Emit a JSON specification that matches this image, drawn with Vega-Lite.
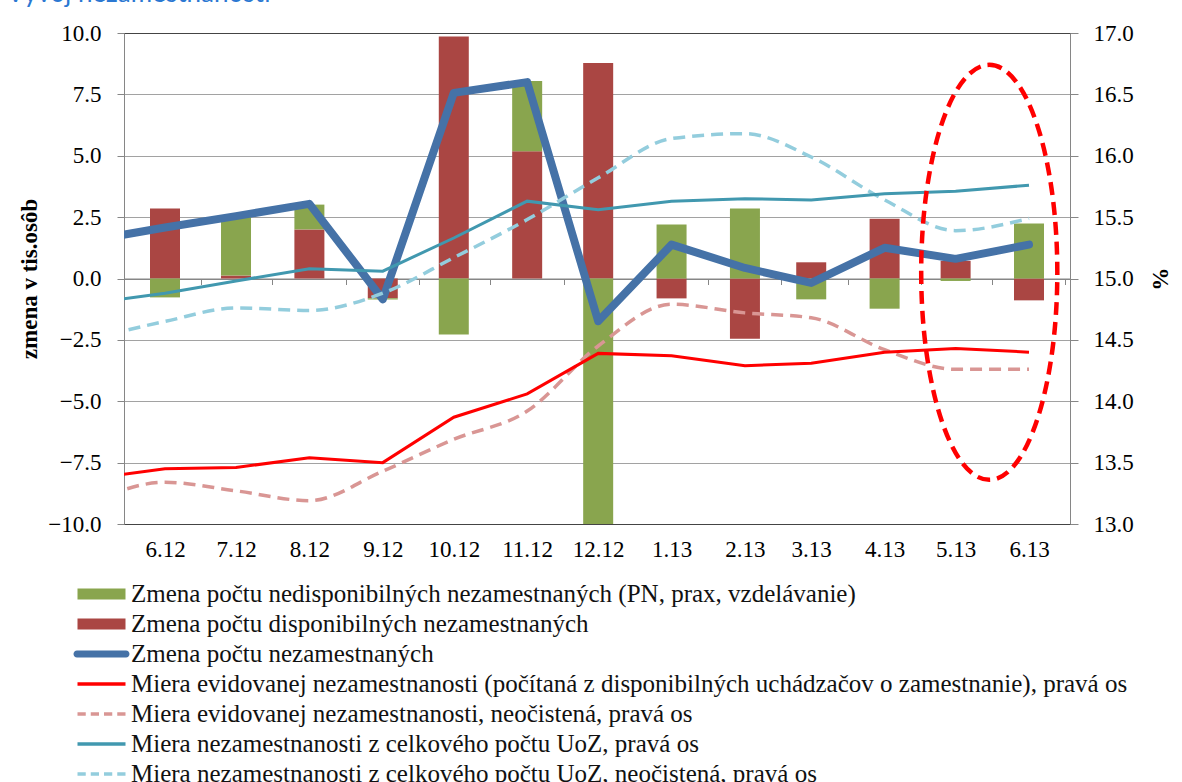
{
  "$schema": "https://vega.github.io/schema/vega-lite/v6.json",
  "width": 946,
  "height": 491,
  "autosize": {"type": "none"},
  "padding": {"left": 124, "top": 33, "right": 112, "bottom": 258},
  "background": "white",
  "config": {
    "font": "Liberation Serif",
    "view": {"stroke": "#000000", "strokeWidth": 1}
  },
  "title": {
    "text": "Vývoj nezamestnanosti",
    "anchor": "start",
    "frame": "bounds",
    "font": "Lato",
    "fontSize": 26,
    "fontWeight": "normal",
    "color": "#2B78D2",
    "baseline": "alphabetic",
    "offset": 0,
    "dx": -12,
    "dy": 6
  },
  "datasets": {
    "bars": [
      {"date": "2012-06-01T00:00:00", "series": "Zmena počtu disponibilných nezamestnaných", "value": 2.85},
      {"date": "2012-06-01T00:00:00", "series": "Zmena počtu nedisponibilných nezamestnaných (PN, prax, vzdelávanie)", "value": -0.77},
      {"date": "2012-07-01T00:00:00", "series": "Zmena počtu disponibilných nezamestnaných", "value": 0.12},
      {"date": "2012-07-01T00:00:00", "series": "Zmena počtu nedisponibilných nezamestnaných (PN, prax, vzdelávanie)", "value": 2.43},
      {"date": "2012-08-01T00:00:00", "series": "Zmena počtu disponibilných nezamestnaných", "value": 2.0},
      {"date": "2012-08-01T00:00:00", "series": "Zmena počtu nedisponibilných nezamestnaných (PN, prax, vzdelávanie)", "value": 1.01},
      {"date": "2012-09-01T00:00:00", "series": "Zmena počtu disponibilných nezamestnaných", "value": -0.8},
      {"date": "2012-09-01T00:00:00", "series": "Zmena počtu nedisponibilných nezamestnaných (PN, prax, vzdelávanie)", "value": -0.06},
      {"date": "2012-10-01T00:00:00", "series": "Zmena počtu disponibilných nezamestnaných", "value": 9.86},
      {"date": "2012-10-01T00:00:00", "series": "Zmena počtu nedisponibilných nezamestnaných (PN, prax, vzdelávanie)", "value": -2.28},
      {"date": "2012-11-01T00:00:00", "series": "Zmena počtu disponibilných nezamestnaných", "value": 5.18},
      {"date": "2012-11-01T00:00:00", "series": "Zmena počtu nedisponibilných nezamestnaných (PN, prax, vzdelávanie)", "value": 2.86},
      {"date": "2012-12-01T00:00:00", "series": "Zmena počtu disponibilných nezamestnaných", "value": 8.78},
      {"date": "2012-12-01T00:00:00", "series": "Zmena počtu nedisponibilných nezamestnaných (PN, prax, vzdelávanie)", "value": -10.52},
      {"date": "2013-01-01T00:00:00", "series": "Zmena počtu disponibilných nezamestnaných", "value": -0.81},
      {"date": "2013-01-01T00:00:00", "series": "Zmena počtu nedisponibilných nezamestnaných (PN, prax, vzdelávanie)", "value": 2.2},
      {"date": "2013-02-01T00:00:00", "series": "Zmena počtu disponibilných nezamestnaných", "value": -2.45},
      {"date": "2013-02-01T00:00:00", "series": "Zmena počtu nedisponibilných nezamestnaných (PN, prax, vzdelávanie)", "value": 2.85},
      {"date": "2013-03-01T00:00:00", "series": "Zmena počtu disponibilných nezamestnaných", "value": 0.66},
      {"date": "2013-03-01T00:00:00", "series": "Zmena počtu nedisponibilných nezamestnaných (PN, prax, vzdelávanie)", "value": -0.85},
      {"date": "2013-04-01T00:00:00", "series": "Zmena počtu disponibilných nezamestnaných", "value": 2.43},
      {"date": "2013-04-01T00:00:00", "series": "Zmena počtu nedisponibilných nezamestnaných (PN, prax, vzdelávanie)", "value": -1.23},
      {"date": "2013-05-01T00:00:00", "series": "Zmena počtu disponibilných nezamestnaných", "value": 0.72},
      {"date": "2013-05-01T00:00:00", "series": "Zmena počtu nedisponibilných nezamestnaných (PN, prax, vzdelávanie)", "value": -0.1},
      {"date": "2013-06-01T00:00:00", "series": "Zmena počtu disponibilných nezamestnaných", "value": -0.89},
      {"date": "2013-06-01T00:00:00", "series": "Zmena počtu nedisponibilných nezamestnaných (PN, prax, vzdelávanie)", "value": 2.24}
    ],
    "blue": [
      {"date": "2012-05-01T00:00:00", "series": "Zmena počtu nezamestnaných", "value": 1.56},
      {"date": "2012-06-01T00:00:00", "series": "Zmena počtu nezamestnaných", "value": 2.08},
      {"date": "2012-07-01T00:00:00", "series": "Zmena počtu nezamestnaných", "value": 2.54},
      {"date": "2012-08-01T00:00:00", "series": "Zmena počtu nezamestnaných", "value": 3.04},
      {"date": "2012-09-01T00:00:00", "series": "Zmena počtu nezamestnaných", "value": -0.85},
      {"date": "2012-10-01T00:00:00", "series": "Zmena počtu nezamestnaných", "value": 7.56},
      {"date": "2012-11-01T00:00:00", "series": "Zmena počtu nezamestnaných", "value": 8.0},
      {"date": "2012-12-01T00:00:00", "series": "Zmena počtu nezamestnaných", "value": -1.74},
      {"date": "2013-01-01T00:00:00", "series": "Zmena počtu nezamestnaných", "value": 1.38},
      {"date": "2013-02-01T00:00:00", "series": "Zmena počtu nezamestnaných", "value": 0.43},
      {"date": "2013-03-01T00:00:00", "series": "Zmena počtu nezamestnaných", "value": -0.18},
      {"date": "2013-04-01T00:00:00", "series": "Zmena počtu nezamestnaných", "value": 1.25},
      {"date": "2013-05-01T00:00:00", "series": "Zmena počtu nezamestnaných", "value": 0.8},
      {"date": "2013-06-01T00:00:00", "series": "Zmena počtu nezamestnaných", "value": 1.38}
    ],
    "right": [
      {"date": "2012-05-01T00:00:00", "series": "Miera evidovanej nezamestnanosti (počítaná z disponibilných uchádzačov o zamestnanie), pravá os", "value": 13.37},
      {"date": "2012-06-01T00:00:00", "series": "Miera evidovanej nezamestnanosti (počítaná z disponibilných uchádzačov o zamestnanie), pravá os", "value": 13.45},
      {"date": "2012-07-01T00:00:00", "series": "Miera evidovanej nezamestnanosti (počítaná z disponibilných uchádzačov o zamestnanie), pravá os", "value": 13.46},
      {"date": "2012-08-01T00:00:00", "series": "Miera evidovanej nezamestnanosti (počítaná z disponibilných uchádzačov o zamestnanie), pravá os", "value": 13.54},
      {"date": "2012-09-01T00:00:00", "series": "Miera evidovanej nezamestnanosti (počítaná z disponibilných uchádzačov o zamestnanie), pravá os", "value": 13.5},
      {"date": "2012-10-01T00:00:00", "series": "Miera evidovanej nezamestnanosti (počítaná z disponibilných uchádzačov o zamestnanie), pravá os", "value": 13.87},
      {"date": "2012-11-01T00:00:00", "series": "Miera evidovanej nezamestnanosti (počítaná z disponibilných uchádzačov o zamestnanie), pravá os", "value": 14.06},
      {"date": "2012-12-01T00:00:00", "series": "Miera evidovanej nezamestnanosti (počítaná z disponibilných uchádzačov o zamestnanie), pravá os", "value": 14.39},
      {"date": "2013-01-01T00:00:00", "series": "Miera evidovanej nezamestnanosti (počítaná z disponibilných uchádzačov o zamestnanie), pravá os", "value": 14.37},
      {"date": "2013-02-01T00:00:00", "series": "Miera evidovanej nezamestnanosti (počítaná z disponibilných uchádzačov o zamestnanie), pravá os", "value": 14.29},
      {"date": "2013-03-01T00:00:00", "series": "Miera evidovanej nezamestnanosti (počítaná z disponibilných uchádzačov o zamestnanie), pravá os", "value": 14.31},
      {"date": "2013-04-01T00:00:00", "series": "Miera evidovanej nezamestnanosti (počítaná z disponibilných uchádzačov o zamestnanie), pravá os", "value": 14.4},
      {"date": "2013-05-01T00:00:00", "series": "Miera evidovanej nezamestnanosti (počítaná z disponibilných uchádzačov o zamestnanie), pravá os", "value": 14.43},
      {"date": "2013-06-01T00:00:00", "series": "Miera evidovanej nezamestnanosti (počítaná z disponibilných uchádzačov o zamestnanie), pravá os", "value": 14.4},
      {"date": "2012-05-01T00:00:00", "series": "Miera evidovanej nezamestnanosti, neočistená, pravá os", "value": 13.18},
      {"date": "2012-06-01T00:00:00", "series": "Miera evidovanej nezamestnanosti, neočistená, pravá os", "value": 13.34},
      {"date": "2012-07-01T00:00:00", "series": "Miera evidovanej nezamestnanosti, neočistená, pravá os", "value": 13.27},
      {"date": "2012-08-01T00:00:00", "series": "Miera evidovanej nezamestnanosti, neočistená, pravá os", "value": 13.19},
      {"date": "2012-09-01T00:00:00", "series": "Miera evidovanej nezamestnanosti, neočistená, pravá os", "value": 13.43},
      {"date": "2012-10-01T00:00:00", "series": "Miera evidovanej nezamestnanosti, neočistená, pravá os", "value": 13.69},
      {"date": "2012-11-01T00:00:00", "series": "Miera evidovanej nezamestnanosti, neočistená, pravá os", "value": 13.92},
      {"date": "2012-12-01T00:00:00", "series": "Miera evidovanej nezamestnanosti, neočistená, pravá os", "value": 14.45},
      {"date": "2013-01-01T00:00:00", "series": "Miera evidovanej nezamestnanosti, neočistená, pravá os", "value": 14.79},
      {"date": "2013-02-01T00:00:00", "series": "Miera evidovanej nezamestnanosti, neočistená, pravá os", "value": 14.72},
      {"date": "2013-03-01T00:00:00", "series": "Miera evidovanej nezamestnanosti, neočistená, pravá os", "value": 14.68},
      {"date": "2013-04-01T00:00:00", "series": "Miera evidovanej nezamestnanosti, neočistená, pravá os", "value": 14.42},
      {"date": "2013-05-01T00:00:00", "series": "Miera evidovanej nezamestnanosti, neočistená, pravá os", "value": 14.26},
      {"date": "2013-06-01T00:00:00", "series": "Miera evidovanej nezamestnanosti, neočistená, pravá os", "value": 14.26},
      {"date": "2012-05-01T00:00:00", "series": "Miera nezamestnanosti z celkového počtu UoZ, pravá os", "value": 14.8},
      {"date": "2012-06-01T00:00:00", "series": "Miera nezamestnanosti z celkového počtu UoZ, pravá os", "value": 14.88},
      {"date": "2012-07-01T00:00:00", "series": "Miera nezamestnanosti z celkového počtu UoZ, pravá os", "value": 14.98},
      {"date": "2012-08-01T00:00:00", "series": "Miera nezamestnanosti z celkového počtu UoZ, pravá os", "value": 15.08},
      {"date": "2012-09-01T00:00:00", "series": "Miera nezamestnanosti z celkového počtu UoZ, pravá os", "value": 15.06},
      {"date": "2012-10-01T00:00:00", "series": "Miera nezamestnanosti z celkového počtu UoZ, pravá os", "value": 15.33},
      {"date": "2012-11-01T00:00:00", "series": "Miera nezamestnanosti z celkového počtu UoZ, pravá os", "value": 15.63},
      {"date": "2012-12-01T00:00:00", "series": "Miera nezamestnanosti z celkového počtu UoZ, pravá os", "value": 15.56},
      {"date": "2013-01-01T00:00:00", "series": "Miera nezamestnanosti z celkového počtu UoZ, pravá os", "value": 15.63},
      {"date": "2013-02-01T00:00:00", "series": "Miera nezamestnanosti z celkového počtu UoZ, pravá os", "value": 15.65},
      {"date": "2013-03-01T00:00:00", "series": "Miera nezamestnanosti z celkového počtu UoZ, pravá os", "value": 15.64},
      {"date": "2013-04-01T00:00:00", "series": "Miera nezamestnanosti z celkového počtu UoZ, pravá os", "value": 15.69},
      {"date": "2013-05-01T00:00:00", "series": "Miera nezamestnanosti z celkového počtu UoZ, pravá os", "value": 15.71},
      {"date": "2013-06-01T00:00:00", "series": "Miera nezamestnanosti z celkového počtu UoZ, pravá os", "value": 15.76},
      {"date": "2012-05-01T00:00:00", "series": "Miera nezamestnanosti z celkového počtu UoZ, neočistená, pravá os", "value": 14.51},
      {"date": "2012-06-01T00:00:00", "series": "Miera nezamestnanosti z celkového počtu UoZ, neočistená, pravá os", "value": 14.65},
      {"date": "2012-07-01T00:00:00", "series": "Miera nezamestnanosti z celkového počtu UoZ, neočistená, pravá os", "value": 14.76},
      {"date": "2012-08-01T00:00:00", "series": "Miera nezamestnanosti z celkového počtu UoZ, neočistená, pravá os", "value": 14.74},
      {"date": "2012-09-01T00:00:00", "series": "Miera nezamestnanosti z celkového počtu UoZ, neočistená, pravá os", "value": 14.88},
      {"date": "2012-10-01T00:00:00", "series": "Miera nezamestnanosti z celkového počtu UoZ, neočistená, pravá os", "value": 15.17},
      {"date": "2012-11-01T00:00:00", "series": "Miera nezamestnanosti z celkového počtu UoZ, neočistená, pravá os", "value": 15.48},
      {"date": "2012-12-01T00:00:00", "series": "Miera nezamestnanosti z celkového počtu UoZ, neočistená, pravá os", "value": 15.82},
      {"date": "2013-01-01T00:00:00", "series": "Miera nezamestnanosti z celkového počtu UoZ, neočistená, pravá os", "value": 16.14},
      {"date": "2013-02-01T00:00:00", "series": "Miera nezamestnanosti z celkového počtu UoZ, neočistená, pravá os", "value": 16.18},
      {"date": "2013-03-01T00:00:00", "series": "Miera nezamestnanosti z celkového počtu UoZ, neočistená, pravá os", "value": 15.99},
      {"date": "2013-04-01T00:00:00", "series": "Miera nezamestnanosti z celkového počtu UoZ, neočistená, pravá os", "value": 15.64},
      {"date": "2013-05-01T00:00:00", "series": "Miera nezamestnanosti z celkového počtu UoZ, neočistená, pravá os", "value": 15.39},
      {"date": "2013-06-01T00:00:00", "series": "Miera nezamestnanosti z celkového počtu UoZ, neočistená, pravá os", "value": 15.49}
    ],
    "ellipse": [
      {"date": "2013-05-15T05:00:00", "value": 15.05}
    ]
  },
  "encoding": {
    "x": {
      "field": "date",
      "type": "temporal",
      "scale": {"domain": [{"year": 2012, "month": 5, "date": 16, "hours": 19}, {"year": 2013, "month": 6, "date": 16, "hours": 5}]},
      "axis": {
        "orient": "bottom",
        "offset": -245.5,
        "format": "%-m.%y",
        "tickCount": {"interval": "month", "step": 1},
        "grid": false,
        "domainColor": "#868686",
        "tickColor": "#868686",
        "tickSize": 6,
        "tickOffset": 36.4,
        "labelOffset": -36.4,
        "labelPadding": 254,
        "labelFont": "Liberation Serif",
        "labelFontSize": 23,
        "labelColor": "#000000",
        "labelFlush": false,
        "labelOverlap": false,
        "labelBound": false,
        "title": null
      }
    }
  },
  "layer": [
    {
      "encoding": {
        "y": {
          "field": "value",
          "type": "quantitative",
          "scale": {"domain": [-10, 10], "nice": false, "zero": false},
          "axis": {
            "orient": "left",
            "values": [-10, -7.5, -5, -2.5, 0, 2.5, 5, 7.5, 10],
            "format": ".1f",
            "grid": true,
            "gridColor": {"condition": {"test": "datum.value === 0", "value": "#868686"}, "value": "#444444"},
            "gridDash": {"condition": {"test": "datum.value === 0 || abs(datum.value) === 10", "value": []}, "value": [1, 1]},
            "gridWidth": 1,
            "domainColor": "#868686",
            "tickColor": "#868686",
            "tickSize": 7,
            "labelPadding": 16,
            "labelFont": "Liberation Serif",
            "labelFontSize": 23,
            "labelColor": "#000000",
            "title": "zmena v tis.osôb",
            "titleFont": "Liberation Serif",
            "titleFontSize": 23,
            "titleFontWeight": "bold",
            "titleColor": "#000000",
            "titlePadding": 6
          }
        }
      },
      "layer": [
        {
          "data": {"name": "bars"},
          "mark": {"type": "bar", "width": 30, "clip": true},
          "encoding": {
            "color": {
              "field": "series",
              "type": "nominal",
              "scale": {
                "domain": [
                  "Zmena počtu nedisponibilných nezamestnaných (PN, prax, vzdelávanie)",
                  "Zmena počtu disponibilných nezamestnaných",
                  "Zmena počtu nezamestnaných",
                  "Miera evidovanej nezamestnanosti (počítaná z disponibilných uchádzačov o zamestnanie), pravá os",
                  "Miera evidovanej nezamestnanosti, neočistená, pravá os",
                  "Miera nezamestnanosti z celkového počtu UoZ, pravá os",
                  "Miera nezamestnanosti z celkového počtu UoZ, neočistená, pravá os"
                ],
                "range": ["#89A54E", "#AA4643", "#4572A7", "#FF0000", "#D99694", "#4198AF", "#93CDDD"]
              },
              "legend": {
                "orient": "none",
                "legendX": -35,
                "legendY": 548.5,
                "direction": "vertical",
                "title": null,
                "padding": 0,
                "symbolType": "square",
                "symbolSize": 400,
                "labelFont": "Liberation Serif",
                "labelFontSize": 25,
                "labelColor": "#111111",
                "labelLimit": 1100,
                "labelOffset": 17,
                "rowPadding": 4,
                "encode": {
                  "symbols": {
                    "update": {
                      "shape": {"signal": "datum.index < 2 ? 'M-2.4,-0.55H2.4V0.55H-2.4Z' : (datum.index == 2 ? 'M-2.45,-0.35H2.45A0.35,0.35 0 0 1 2.45,0.35H-2.45A0.35,0.35 0 0 1 -2.45,-0.35Z' : ((datum.index == 4 || datum.index == 6) ? 'M-2.4,-0.175H-1.575V0.175H-2.4Z M-1.075,-0.175H-0.25V0.175H-1.075Z M0.25,-0.175H1.075V0.175H0.25Z M1.575,-0.175H2.4V0.175H1.575Z' : 'M-2.4,-0.175H2.4V0.175H-2.4Z'))"},
                      "fill": {"signal": "scale('color', datum.value)"},
                      "stroke": {"value": "transparent"},
                      "strokeWidth": {"value": 0},
                      "opacity": {"value": 1},
                      "fillOpacity": {"value": 1}
                    }
                  }
                }
              }
            },
            "order": {"field": "series", "sort": "ascending"}
          }
        },
        {
          "data": {"name": "blue"},
          "mark": {"type": "line", "strokeWidth": 8, "strokeCap": "round", "strokeJoin": "round", "clip": true},
          "encoding": {
            "color": {"field": "series", "type": "nominal"}
          }
        }
      ]
    },
    {
      "encoding": {
        "y": {
          "field": "value",
          "type": "quantitative",
          "scale": {"domain": [13, 17], "nice": false, "zero": false},
          "axis": {
            "orient": "right",
            "values": [13, 13.5, 14, 14.5, 15, 15.5, 16, 16.5, 17],
            "format": ".1f",
            "grid": false,
            "domainColor": "#868686",
            "tickColor": "#868686",
            "tickSize": 8,
            "labelPadding": 15,
            "labelFont": "Liberation Serif",
            "labelFontSize": 23,
            "labelColor": "#000000",
            "title": "%",
            "titleFont": "Liberation Serif",
            "titleFontSize": 23,
            "titleFontWeight": "bold",
            "titleColor": "#000000",
            "titlePadding": 14
          }
        }
      },
      "layer": [
        {
          "data": {"name": "right"},
          "transform": [{"filter": "datum.series == 'Miera evidovanej nezamestnanosti, neočistená, pravá os'"}],
          "mark": {"type": "line", "strokeWidth": 3.5, "strokeDash": [12, 7], "interpolate": "monotone", "clip": true},
          "encoding": {"color": {"field": "series", "type": "nominal"}}
        },
        {
          "data": {"name": "right"},
          "transform": [{"filter": "datum.series == 'Miera nezamestnanosti z celkového počtu UoZ, neočistená, pravá os'"}],
          "mark": {"type": "line", "strokeWidth": 3.5, "strokeDash": [12, 7], "interpolate": "monotone", "clip": true},
          "encoding": {"color": {"field": "series", "type": "nominal"}}
        },
        {
          "data": {"name": "right"},
          "transform": [{"filter": "datum.series == 'Miera nezamestnanosti z celkového počtu UoZ, pravá os'"}],
          "mark": {"type": "line", "strokeWidth": 3, "clip": true},
          "encoding": {"color": {"field": "series", "type": "nominal"}}
        },
        {
          "data": {"name": "right"},
          "transform": [{"filter": "datum.series == 'Miera evidovanej nezamestnanosti (počítaná z disponibilných uchádzačov o zamestnanie), pravá os'"}],
          "mark": {"type": "line", "strokeWidth": 3, "clip": true},
          "encoding": {"color": {"field": "series", "type": "nominal"}}
        },
        {
          "data": {"name": "ellipse"},
          "mark": {
            "type": "point",
            "shape": "M0,-1A0.328,1 0 1,1 0,1A0.328,1 0 1,1 0,-1Z",
            "size": 172225,
            "filled": false,
            "stroke": "#FF0000",
            "strokeWidth": 4.5,
            "strokeDash": [13, 7],
            "opacity": 1
          }
        }
      ]
    }
  ],
  "resolve": {"scale": {"y": "independent"}}
}
